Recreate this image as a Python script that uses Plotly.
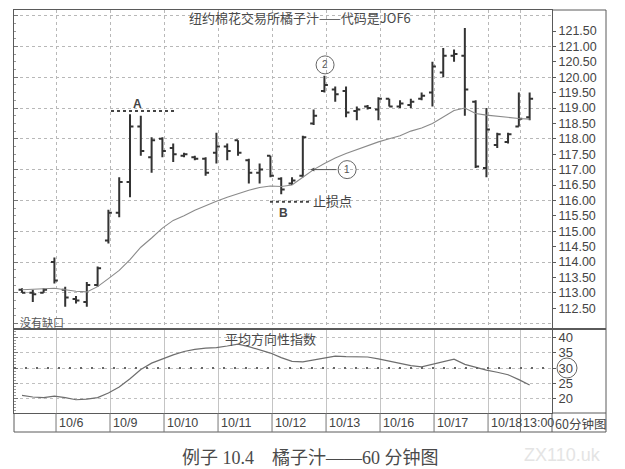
import plotly.graph_objects as go

# ---------------- data ----------------
bar_index = list(range(48))
open_p = [113.10, 113.00, 113.00, 114.00, 113.10, 112.80, 112.70, 113.25,
          114.70, 115.60, 116.60, 118.40, 117.40, 118.00, 117.70, 117.45,
          117.40, 117.35, 117.55, 117.75, 117.95, 117.30, 116.90, 117.45,
          116.70, 116.55, 116.80, 118.50, 119.55, 119.60, 119.55, 118.90,
          119.05, 118.95, 119.30, 119.05, 119.10, 119.30, 119.50, 120.15,
          120.70, 120.70, 119.20, 117.05, 117.80, 117.90, 118.40, 118.70]
high_p = [113.15, 113.10, 113.15, 114.15, 113.20, 112.90, 113.35, 113.85,
          115.70, 116.75, 118.80, 118.75, 118.05, 118.05, 117.85, 117.55,
          117.45, 117.40, 118.20, 117.85, 117.95, 117.35, 117.20, 117.45,
          116.75, 116.75, 118.10, 118.95, 120.05, 119.70, 119.70, 119.05,
          119.10, 119.35, 119.30, 119.25, 119.30, 119.50, 120.50, 120.95,
          120.90, 121.60, 119.25, 119.00, 118.20, 118.20, 119.50, 119.50]
low_p = [113.00, 112.70, 113.00, 113.30, 112.55, 112.65, 112.55, 113.20,
         114.60, 115.45, 116.10, 117.45, 116.90, 117.40, 117.25, 117.40,
         117.30, 116.80, 117.20, 117.30, 117.45, 116.55, 116.55, 116.75,
         116.20, 116.50, 116.75, 118.45, 119.50, 119.20, 118.70, 118.60,
         118.95, 118.60, 119.05, 119.00, 119.00, 119.25, 119.05, 120.00,
         120.50, 118.75, 117.05, 116.75, 117.70, 117.85, 118.40, 118.60]
close_p = [113.00, 112.95, 113.10, 113.40, 112.85, 112.75, 113.25, 113.80,
           115.60, 116.60, 118.40, 117.60, 117.95, 117.60, 117.50, 117.50,
           117.35, 116.90, 117.75, 117.60, 117.55, 116.90, 117.00, 116.80,
           116.35, 116.65, 118.05, 118.75, 119.75, 119.45, 118.85, 118.95,
           119.00, 119.30, 119.05, 119.15, 119.20, 119.40, 120.35, 120.70,
           120.75, 119.60, 117.10, 118.30, 118.15, 118.15, 118.65, 119.30]
ma_vals = [113.10, 113.12, 113.15, 113.15, 113.10, 113.05, 113.03, 113.20,
           113.46, 113.73, 114.08, 114.48, 114.78, 115.10, 115.35, 115.50,
           115.68, 115.83, 115.97, 116.10, 116.22, 116.33, 116.42, 116.47,
           116.45, 116.50, 116.75, 117.00, 117.20, 117.38, 117.52, 117.65,
           117.78, 117.90, 118.00, 118.10, 118.25, 118.35, 118.50, 118.70,
           118.92, 119.00, 118.82, 118.77, 118.73, 118.69, 118.66, 118.64]
adx_vals = [21.0, 20.5, 20.3, 20.8, 20.3, 19.6, 19.8, 20.3,
            21.8, 23.8, 26.5, 29.5, 31.6, 33.0, 34.3, 35.4,
            36.1, 36.5, 36.7, 37.2, 37.8, 37.0, 35.9, 34.9,
            33.4, 32.2, 32.0, 32.6, 33.4, 33.9, 33.7, 33.6,
            33.6, 33.0, 32.3, 31.6, 30.8, 30.4, 31.2, 32.0,
            32.9, 31.2, 30.2, 29.3, 28.6, 27.8, 26.2, 24.4]
day_start_idx = [3, 8, 13, 18, 23, 28, 33, 38, 43]
day_labels = ["10/6", "10/9", "10/10", "10/11", "10/12", "10/13", "10/16", "10/17", "10/18"]
time_mark_idx = 46
time_mark_label = "13:00"
price_ticks = [112.5, 113.0, 113.5, 114.0, 114.5, 115.0, 115.5, 116.0, 116.5, 117.0,
               117.5, 118.0, 118.5, 119.0, 119.5, 120.0, 120.5, 121.0, 121.5]
adx_ticks = [20, 25, 30, 35, 40]
level_a = 118.9
level_b = 115.96

# ---------------- figure ----------------
INK = "#333333"
FRAME = "#5a5a5a"
NUMFONT = "Liberation Sans Narrow, Liberation Sans, Arial"
CJK = "Noto Sans CJK SC"

sep_x = [d + 0.15 for d in day_start_idx] + [time_mark_idx + 0.15]

fig = go.Figure()
fig.add_trace(go.Ohlc(
    x=bar_index, open=open_p, high=high_p, low=low_p, close=close_p,
    increasing=dict(line=dict(color=INK, width=2)),
    decreasing=dict(line=dict(color=INK, width=2)),
    tickwidth=0.32, xaxis="x", yaxis="y", showlegend=False, hoverinfo="skip"))
fig.add_trace(go.Scatter(x=bar_index, y=ma_vals, mode="lines",
                         line=dict(color="#8a8a8a", width=1.1),
                         xaxis="x", yaxis="y3", showlegend=False, hoverinfo="skip"))
fig.add_trace(go.Scatter(x=bar_index, y=adx_vals, mode="lines",
                         line=dict(color="#6e6e6e", width=1.2),
                         xaxis="x2", yaxis="y2", showlegend=False, hoverinfo="skip"))
fig.add_trace(go.Scatter(x=[None], y=[None], xaxis="x2", yaxis="y4",
                         showlegend=False, hoverinfo="skip"))

xr = [-0.741, 49.07]
yr = [111.857, 122.182]
y2r = [15.25, 42.46]

# page body has an 8px margin, so the figure is 8px smaller and margins shifted
fig.update_layout(
    width=617, height=461,
    margin=dict(l=6, r=73, t=2, b=56),
    paper_bgcolor="white", plot_bgcolor="white",
    showlegend=False,
    xaxis=dict(domain=[0, 1], range=xr, anchor="y", tickmode="array", tickvals=sep_x,
               showticklabels=False, ticks="", showgrid=True, gridcolor="#b8b8b8",
               griddash="dot", gridwidth=1, zeroline=False, showline=True,
               linecolor=FRAME, linewidth=1, mirror=True,
               rangeslider=dict(visible=False)),
    yaxis=dict(domain=[0.2109, 1], range=yr, anchor="x", side="right",
               tickmode="array", tickvals=price_ticks,
               ticktext=[f"{v:.2f}" for v in price_ticks],
               ticks="outside", ticklen=3, tickcolor=FRAME,
               tickfont=dict(family=NUMFONT, size=12.5, color="#444"),
               showgrid=False, zeroline=False, showline=True, linecolor=FRAME,
               linewidth=1, mirror=True),
    yaxis3=dict(overlaying="y", anchor="x", side="left", range=yr,
                tickmode="linear", tick0=0, dtick=1, ticks="inside", ticklen=4,
                tickcolor="#777", showticklabels=False, showgrid=True,
                gridcolor="#b8b8b8", griddash="dot", zeroline=False, showline=False,
                minor=dict(dtick=0.25, ticks="inside", ticklen=2, tickcolor="#999")),
    xaxis2=dict(domain=[0, 1], range=xr, anchor="y2", matches="x", tickmode="array",
                tickvals=sep_x, showticklabels=False, ticks="", showgrid=True,
                gridcolor="#c4c4c4", gridwidth=1, zeroline=False, showline=True,
                linecolor=FRAME, linewidth=1, mirror=True),
    yaxis2=dict(domain=[0, 0.206], range=y2r, anchor="x2", side="right",
                tickmode="array", tickvals=adx_ticks, ticks="outside", ticklen=3,
                tickcolor=FRAME, tickfont=dict(family=NUMFONT, size=13, color="#444"),
                showgrid=True, gridcolor="#c0c0c0", griddash="dot", zeroline=False,
                showline=True, linecolor=FRAME, linewidth=1, mirror=True),
    yaxis4=dict(overlaying="y2", anchor="x2", side="left", range=y2r,
                tickmode="linear", tick0=0, dtick=5, ticks="inside", ticklen=4,
                tickcolor="#777", showticklabels=False, showgrid=False, zeroline=False,
                showline=False, minor=dict(dtick=1, ticks="inside", ticklen=2, tickcolor="#999")),
)

def px_x(px):
    return (px - 14) / 538.0

def px_y(py):
    return (413 - py) / 403.0

shapes = []
line_kw = dict(color=FRAME, width=1)
# outer frame pieces
shapes.append(dict(type="line", xref="paper", yref="paper", x0=px_x(606), x1=px_x(606),
                   y0=px_y(432), y1=1.0, line=line_kw))
shapes.append(dict(type="line", xref="paper", yref="paper", x0=1.0, x1=px_x(606),
                   y0=1.0, y1=1.0, line=line_kw))
shapes.append(dict(type="line", xref="paper", yref="paper", x0=1.0, x1=px_x(606),
                   y0=px_y(329), y1=px_y(329), line=dict(color=FRAME, width=2)))
shapes.append(dict(type="line", xref="paper", yref="paper", x0=0, x1=px_x(606),
                   y0=px_y(432), y1=px_y(432), line=line_kw))
shapes.append(dict(type="line", xref="paper", yref="paper", x0=0, x1=0,
                   y0=px_y(432), y1=0, line=line_kw))
shapes.append(dict(type="line", xref="paper", yref="paper", x0=1.0, x1=1.0,
                   y0=px_y(432), y1=0, line=line_kw))
shapes.append(dict(type="line", xref="paper", yref="paper", x0=1.0, x1=px_x(606),
                   y0=0, y1=0, line=line_kw))
# date separators
for sx in sep_x:
    shapes.append(dict(type="line", xref="x2", yref="paper", x0=sx, x1=sx,
                       y0=px_y(432), y1=0, line=dict(color="#777", width=1)))
# A and B levels
shapes.append(dict(type="line", xref="x", yref="y", x0=8.24, x1=14.35, y0=level_a, y1=level_a,
                   line=dict(color="#444", width=2, dash="dot")))
shapes.append(dict(type="line", xref="x", yref="y", x0=22.96, x1=26.7, y0=level_b, y1=level_b,
                   line=dict(color="#444", width=2, dash="dot")))
# circled markers
for cx, cy in [(28.06, 120.4), (30.1, 117.0)]:
    shapes.append(dict(type="circle", xref="x", yref="y", xsizemode="pixel", ysizemode="pixel",
                       xanchor=cx, yanchor=cy, x0=-9, x1=9, y0=-9, y1=9,
                       line=dict(color="#666", width=1)))
# heavier 30 line and circled 30 label
shapes.append(dict(type="line", xref="paper", yref="y2", x0=0, x1=1, y0=30, y1=30,
                   line=dict(color="#666", width=2, dash="2px,9px")))
shapes.append(dict(type="circle", xref="paper", yref="y2", xsizemode="pixel", ysizemode="pixel",
                   xanchor=px_x(567), yanchor=30, x0=-10, x1=10, y0=-10, y1=10,
                   line=dict(color="#666", width=1)))
fig.update_layout(shapes=shapes)

ann = []
ann.append(dict(text="纽约棉花交易所橘子汁——代码是JOF6", xref="paper", yref="paper",
                x=px_x(300), y=px_y(18), xanchor="center", yanchor="middle", showarrow=False,
                font=dict(family=CJK, size=13, color="#4a4a4a")))
ann.append(dict(text="没有缺口", xref="paper", yref="paper", x=px_x(18), y=px_y(322),
                xanchor="left", yanchor="middle", showarrow=False,
                font=dict(family=CJK, size=11, color="#555")))
ann.append(dict(text="平均方向性指数", xref="paper", yref="paper", x=px_x(270), y=px_y(338),
                xanchor="center", yanchor="middle", showarrow=False,
                font=dict(family=CJK, size=13, color="#4a4a4a")))
ann.append(dict(text="<b>A</b>", xref="x", yref="y", x=10.65, y=119.13, showarrow=False,
                font=dict(family="Liberation Sans", size=12, color="#444")))
ann.append(dict(text="<b>B</b>", xref="x", yref="y", x=24.2, y=115.6, showarrow=False,
                font=dict(family="Liberation Sans", size=12, color="#444")))
ann.append(dict(text="止损点", xref="x", yref="y", x=26.8, y=116.0, xanchor="left",
                yanchor="middle", showarrow=False, font=dict(family=CJK, size=13, color="#444")))
ann.append(dict(text="2", xref="x", yref="y", x=28.06, y=120.4, showarrow=False,
                font=dict(family="Liberation Sans", size=10, color="#555")))
ann.append(dict(text="1", xref="x", yref="y", x=30.1, y=117.0, showarrow=False,
                font=dict(family="Liberation Sans", size=10, color="#555")))
ann.append(dict(text="", xref="x", yref="y", x=26.7, y=117.0, axref="x", ayref="y",
                ax=29.27, ay=117.0, showarrow=True, arrowhead=2, arrowsize=0.8,
                arrowwidth=1, arrowcolor="#555"))
for dx, lab in zip(day_start_idx, day_labels):
    ann.append(dict(text=lab, xref="x2", yref="paper", x=dx + 0.15, y=px_y(423),
                    xanchor="left", yanchor="middle", xshift=1, showarrow=False,
                    font=dict(family=NUMFONT, size=12.5, color="#444")))
ann.append(dict(text=time_mark_label, xref="x2", yref="paper", x=time_mark_idx + 0.15,
                y=px_y(423), xanchor="left", yanchor="middle", xshift=1, showarrow=False,
                font=dict(family=NUMFONT, size=12.5, color="#444")))
ann.append(dict(text="60分钟图", xref="paper", yref="paper", x=px_x(553), y=px_y(423),
                xanchor="left", yanchor="middle", showarrow=False,
                font=dict(family=CJK, size=12.5, color="#444")))
ann.append(dict(text="例子 10.4　橘子汁——60 分钟图", xref="paper", yref="paper",
                x=px_x(311), y=px_y(458), xanchor="center", yanchor="middle", showarrow=False,
                font=dict(family="Liberation Serif, " + CJK, size=18, color="#4a4a4a")))
ann.append(dict(text="ZX110.uk", xref="paper", yref="paper", x=px_x(562), y=px_y(455),
                xanchor="center", yanchor="middle", showarrow=False,
                font=dict(family="Liberation Sans", size=18, color="#e4e4e4")))
fig.update_layout(annotations=ann)

fig.write_html("out.html")
